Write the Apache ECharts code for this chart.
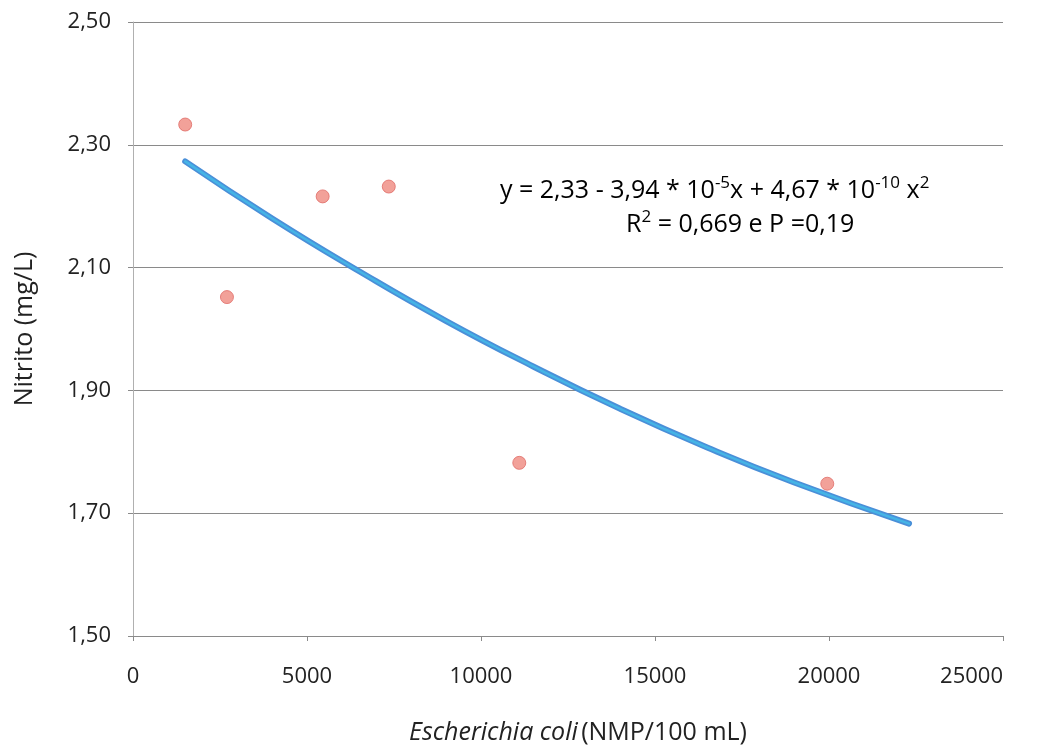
<!DOCTYPE html>
<html>
<head>
<meta charset="utf-8">
<script src="https://cdn.jsdelivr.net/npm/echarts@6/dist/echarts.min.js"></script>
<style>
  html, body { margin: 0; padding: 0; background: #fff; }
  #chart { width: 1037px; height: 750px; }
</style>
</head>
<body>
<div id="chart"></div>
<script>
// E. coli (NMP/100 mL) vs nitrito (mg/L)
var ecoli = [1500, 2700, 5450, 7350, 11100, 19950];
var nitrito = [2.333, 2.052, 2.216, 2.232, 1.782, 1.748];

// trend line
var trendX = [1500, 4000, 6500, 9000, 11500, 14000, 16500, 19000, 22300];
var trendY = [2.273, 2.180, 2.094, 2.013, 1.939, 1.870, 1.807, 1.750, 1.683];

var xTicks = [0, 5000, 10000, 15000, 20000, 25000];
var yTicks = [1.5, 1.7, 1.9, 2.1, 2.3, 2.5];

var font = '"Open Sans", Lato, sans-serif';

function pairs(xs, ys) {
	var out = [];
	for (var i = 0; i < xs.length; i++) out.push([xs[i], ys[i]]);
	return out;
}

var txt = { fontFamily: font, fontSize: 25, color: '#222', lineHeight: 32 };
var sup = { fontFamily: font, fontSize: 17, color: '#222', lineHeight: 32, verticalAlign: 'top' };

var myChart = echarts.init(document.getElementById('chart'));
var option = {
	animation: false,
	grid: { left: 133, right: 34, top: 22, bottom: 112 },
	xAxis: {
		type: 'value',
		min: xTicks[0],
		max: xTicks[xTicks.length - 1],
		interval: 5000,
		name: '{i|Escherichia coli} {n|(NMP/100 mL)}',
		nameLocation: 'middle',
		nameGap: 84,
		nameTextStyle: {
			padding: [0, 0, 0, 20],
			rich: {
				i: { fontFamily: font, fontSize: 25, fontStyle: 'italic', color: '#222' },
				n: { fontFamily: font, fontSize: 25, color: '#222' }
			}
		},
		axisLine: { lineStyle: { color: '#8a8a8a', width: 1 } },
		axisTick: { show: true, length: 5, inside: false, lineStyle: { color: '#8a8a8a' } },
		axisLabel: {
			fontFamily: font, fontSize: 22, color: '#222', margin: 30,
			alignMaxLabel: 'right',
			formatter: function (v) { return String(v); }
		},
		splitLine: { show: false }
	},
	yAxis: {
		type: 'value',
		min: yTicks[0],
		max: yTicks[yTicks.length - 1],
		interval: 0.2,
		name: 'Nitrito (mg/L)',
		nameLocation: 'middle',
		nameGap: 96,
		nameTextStyle: { fontFamily: font, fontSize: 25, color: '#222' },
		axisLine: { show: true, lineStyle: { color: '#b0b0b0', width: 1 } },
		axisTick: { show: true, length: 5, lineStyle: { color: '#8a8a8a' } },
		axisLabel: {
			fontFamily: font, fontSize: 22, color: '#222', margin: 22,
			formatter: function (v) { return v.toFixed(2).replace('.', ','); }
		},
		splitLine: { show: true, lineStyle: { color: '#8a8a8a', width: 1 } }
	},
	series: [
		{
			name: 'tendência',
			type: 'line',
			data: pairs(trendX, trendY),
			smooth: true,
			showSymbol: false,
			lineStyle: { color: '#4a8fd8', width: 6, cap: 'round' },
			z: 2
		},
		{
			name: 'tendência2',
			type: 'line',
			data: pairs(trendX, trendY),
			smooth: true,
			showSymbol: false,
			lineStyle: { color: '#45b4e6', width: 2.5, cap: 'round' },
			z: 3
		},
		{
			name: 'amostras',
			type: 'scatter',
			data: pairs(ecoli, nitrito),
			symbolSize: 13,
			itemStyle: { color: '#ef8a80', borderColor: '#e06c66', borderWidth: 1 },
			z: 4
		}
	],
	graphic: [
		{
			type: 'text',
			left: 500, top: 175,
			style: {
				text: '{n|y = 2,33 - 3,94 * 10}{s|-5}{n|x + 4,67 * 10}{s|-10}{n| x}{s|2}',
				rich: { n: txt, s: sup }
			}
		},
		{
			type: 'text',
			left: 626, top: 209,
			style: {
				text: '{n|R}{s|2}{n| = 0,669 e P =0,19}',
				rich: { n: txt, s: sup }
			}
		}
	]
};
myChart.setOption(option);
</script>
</body>
</html>
